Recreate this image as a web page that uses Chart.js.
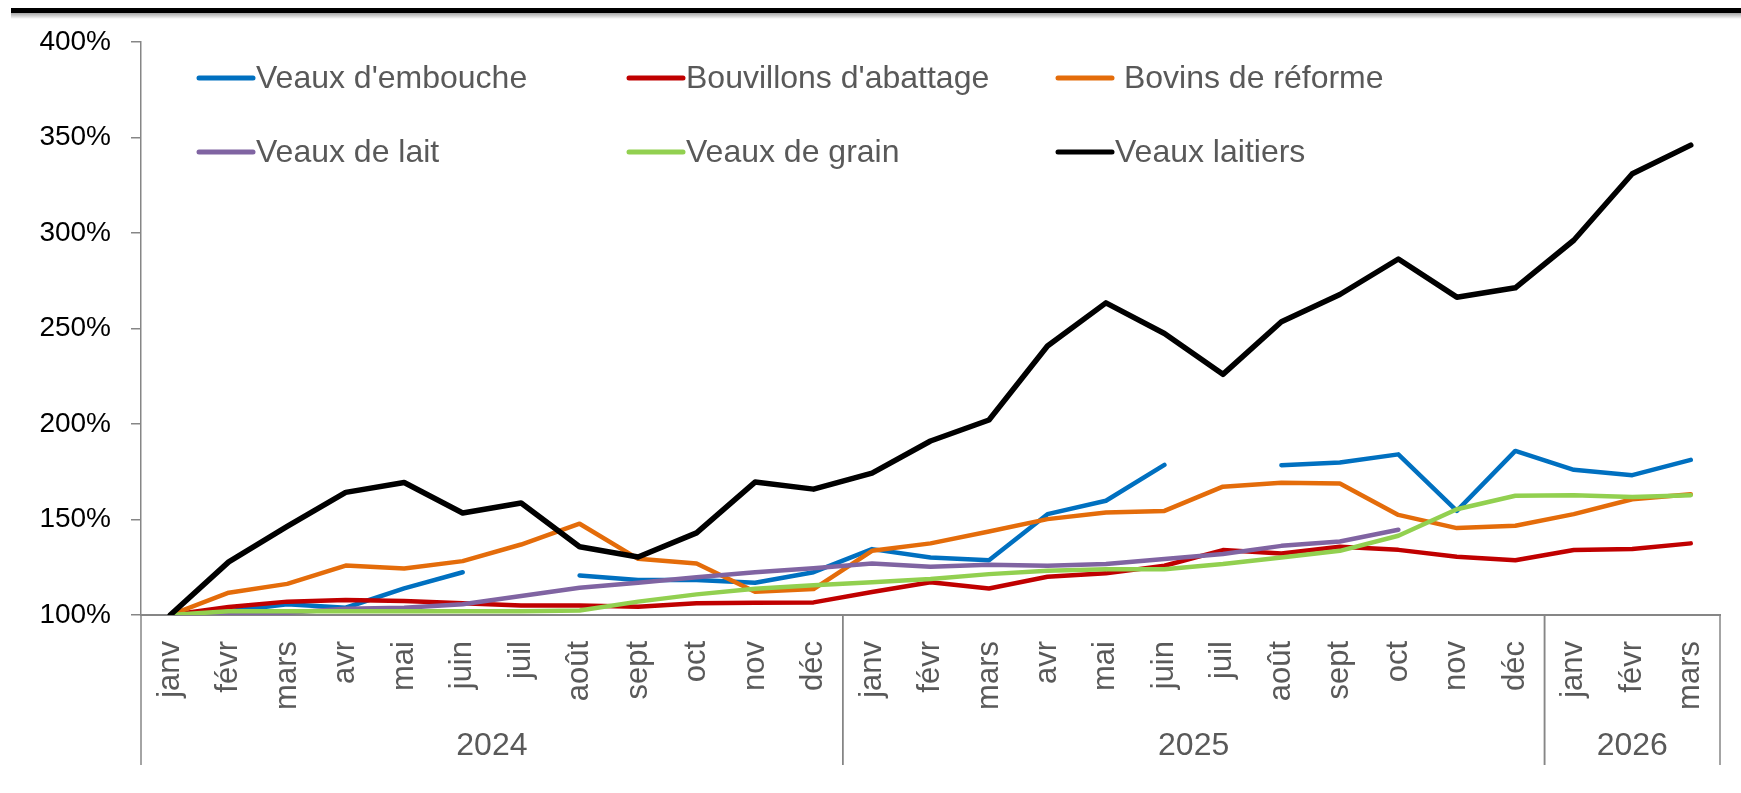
<!DOCTYPE html>
<html>
<head>
<meta charset="utf-8">
<script src="https://cdn.jsdelivr.net/npm/chart.js@4.4.0/dist/chart.umd.min.js"></script>
<style>
  body { margin: 0; background: #fff; }
  #wrap { width: 1741px; height: 793px; }
</style>
</head>
<body>
<div id="wrap"><canvas id="myChart" width="1741" height="793"></canvas></div>
<script>
// categories
const months = ['janv', 'févr', 'mars', 'avr', 'mai', 'juin', 'juil', 'août', 'sept', 'oct', 'nov', 'déc',
    'janv', 'févr', 'mars', 'avr', 'mai', 'juin', 'juil', 'août', 'sept', 'oct', 'nov', 'déc',
    'janv', 'févr', 'mars'];
const yearLabels = ['2024', '2025', '2026'];
const yearSpans = [12, 12, 3];

// series (% of janv 2024)
const veauxEmbouche = [100, 102, 105.6, 103.8, 113.9, 122.4, null, 120.7, 118.3, 118.3, 116.9, 122.4,
    134.5, 130.1, 128.7, 152.8, 159.8, 178.6, null, 178.4, 179.8, 184.1, 154.5, 185.9, 176, 173.2, 181.2];
const bouvillons = [100, 104.2, 107, 107.8, 107.3, 106.1, 105, 105, 104.3, 106.1, 106.4, 106.6,
    112, 117.1, 113.9, 120, 121.8, 125.8, 134, 132.2, 135.7, 134.1, 130.5, 128.7, 134, 134.5, 137.5];
const bovinsReforme = [100, 111.7, 116.3, 125.9, 124.3, 128.2, 136.9, 147.8, 129.4, 127, 112.2, 113.6,
    133.6, 137.5, 143.7, 150.2, 153.7, 154.5, 167.2, 169.3, 168.8, 152.4, 145.5, 146.7, 152.8, 160.6, 163.2];
const veauxLait = [100, 100, 101.2, 103.3, 103.8, 105.6, 109.9, 114.3, 116.9, 119.8, 122.4, 124.5,
    127, 125.3, 126.3, 125.8, 126.7, 129.3, 131.9, 136.2, 138.5, 144.6, null, null, null, null, null];
const veauxGrain = [100, 102, 102, 102, 102, 102, 102, 102.4, 107, 110.8, 113.7, 115.6,
    117.2, 118.8, 121.4, 123.2, 124, 124, 126.7, 130.1, 133.6, 141.5, 155.4, 162.4, 162.7, 161.8, 162.7];
const veauxLaitiers = [100, 127.8, 146.4, 164.2, 169.4, 153.4, 158.6, 135.7, 130.4, 143, 169.6, 165.9,
    174.3, 191.1, 202.1, 240.8, 263.4, 247.4, 226, 253.5, 267.8, 286.4, 266.4, 271.3, 296.2, 331, 346];

const seriesNames = ["Veaux d'embouche", "Bouvillons d'abattage", " Bovins de réforme",
    "Veaux de lait", "Veaux de grain", "Veaux laitiers"];
const seriesData = [veauxEmbouche, bouvillons, bovinsReforme, veauxLait, veauxGrain, veauxLaitiers];
const seriesColors = ['#0070C0', '#C00000', '#E46C0A', '#8064A2', '#92D050', '#000000'];

const FONT = "'Liberation Sans', Arial, sans-serif";
const GREY = '#868686';
const TEXT = '#595959';

const datasets = seriesData.map(function (d, i) {
    return {
        label: seriesNames[i],
        data: d,
        borderColor: seriesColors[i],
        backgroundColor: seriesColors[i],
        borderWidth: i === 5 ? 5.5 : 4.5,
        pointRadius: 0,
        tension: 0,
        spanGaps: false,
        borderJoinStyle: 'round',
        borderCapStyle: 'round',
        order: 5 - i,
    };
});

const topBar = {
    id: 'topBar',
    beforeDraw(chart) {
        const c = chart.ctx;
        c.save();
        c.fillStyle = '#fff';
        c.fillRect(0, 0, chart.width, chart.height);
        const g = c.createLinearGradient(0, 13, 0, 19);
        g.addColorStop(0, 'rgba(0,0,0,0.35)');
        g.addColorStop(1, 'rgba(0,0,0,0)');
        c.fillStyle = g;
        c.fillRect(11, 13, chart.width - 11, 6);
        c.fillStyle = '#000';
        c.fillRect(11, 8, chart.width - 11, 5);
        c.restore();
    }
};

const yearGroups = {
    id: 'yearGroups',
    afterDraw(chart) {
        const x = chart.scales.x;
        const c = chart.ctx;
        const half = (x.getPixelForValue(1) - x.getPixelForValue(0)) / 2;
        const top = x.top;
        const bottom = 765;
        c.save();
        c.strokeStyle = GREY;
        c.lineWidth = 1.5;
        c.fillStyle = TEXT;
        c.font = '32px ' + FONT;
        c.textAlign = 'center';
        c.textBaseline = 'middle';
        let start = 0;
        yearSpans.forEach(function (n, k) {
            const end = start + n - 1;
            const left = x.getPixelForValue(start) - half;
            const right = x.getPixelForValue(end) + half;
            c.beginPath();
            c.moveTo(left, top);
            c.lineTo(left, bottom);
            c.moveTo(right, top);
            c.lineTo(right, bottom);
            c.stroke();
            c.fillText(yearLabels[k], (left + right) / 2, 746);
            start = end + 1;
        });
        c.restore();
    }
};

const legendBox = {
    id: 'legendBox',
    afterDraw(chart) {
        const c = chart.ctx;
        const cols = [199, 629, 1058];
        const rows = [78, 152];
        c.save();
        c.font = '32px ' + FONT;
        c.textBaseline = 'middle';
        c.textAlign = 'left';
        chart.data.datasets.forEach(function (ds, i) {
            const x0 = cols[i % 3];
            const y0 = rows[Math.floor(i / 3)];
            c.strokeStyle = ds.borderColor;
            c.lineWidth = 5;
            c.lineCap = 'round';
            c.beginPath();
            c.moveTo(x0, y0);
            c.lineTo(x0 + 54, y0);
            c.stroke();
            c.fillStyle = TEXT;
            c.fillText(ds.label, x0 + 57, y0 + 1);
        });
        c.restore();
    }
};

new Chart(document.getElementById('myChart'), {
    type: 'line',
    data: {
        labels: months,
        datasets: datasets,
    },
    options: {
        responsive: false,
        animation: false,
        devicePixelRatio: 1,
        layout: {
            padding: { top: 42, right: 21, left: 0, bottom: 0 },
        },
        scales: {
            y: {
                min: 100,
                max: 400,
                afterFit(scale) { scale.width = 141; },
                ticks: {
                    stepSize: 50,
                    padding: 20,
                    color: '#000',
                    font: { family: FONT, size: 28 },
                    callback: function (v) { return v + '%'; },
                },
                grid: {
                    display: true,
                    drawOnChartArea: false,
                    drawTicks: true,
                    tickLength: 10,
                    color: GREY,
                    lineWidth: 1.5,
                },
                border: { color: GREY, width: 1.5 },
            },
            x: {
                offset: true,
                afterFit(scale) {
                    scale.height = 178;
                    scale.paddingLeft = 0;
                    scale.paddingRight = 0;
                },
                ticks: {
                    autoSkip: false,
                    minRotation: 90,
                    maxRotation: 90,
                    padding: 18,
                    color: TEXT,
                    font: { family: FONT, size: 31 },
                },
                grid: { display: false },
                border: { color: GREY, width: 2 },
            },
        },
        plugins: {
            legend: { display: false },
            tooltip: { enabled: false },
        },
    },
    plugins: [topBar, yearGroups, legendBox],
});
</script>
</body>
</html>
